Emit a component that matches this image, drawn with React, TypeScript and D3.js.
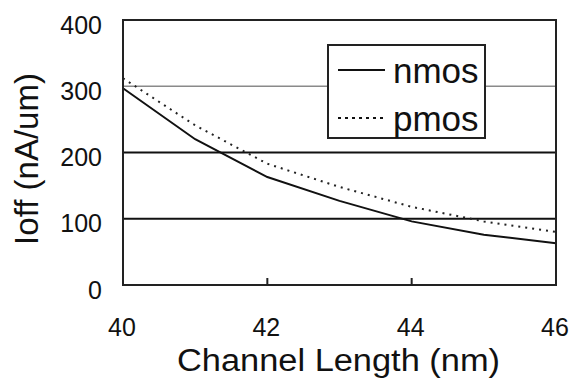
import React from "react";
import * as d3 from "d3";

const channelLength = [40, 41, 42, 43, 44, 45, 46];
const nmos = [297, 220, 163, 127, 96, 76, 63];
const pmos = [312, 241, 183, 148, 118, 96, 80];
const xTicks = [40, 42, 44, 46];
const yTicks = [0, 100, 200, 300, 400];
const seriesNames = ["nmos", "pmos"];

const W = 571;
const H = 380;
const FONT = "'Liberation Sans', Arial, Helvetica, sans-serif";

export default function App() {
  const x = d3.scaleLinear().domain([40, 46]).range([123, 556]);
  const y = d3.scaleLinear().domain([0, 400]).range([285, 20]);
  const line = d3
    .line<number>()
    .x((_, i) => x(channelLength[i]))
    .y((d) => y(d));

  const legend = { x0: 328, y0: 45, x1: 485, y1: 138 };

  return (
    <div style={{ position: "absolute", left: 0, top: 0 }}>
      <svg width={W} height={H} style={{ display: "block", background: "#fff" }} fontFamily={FONT}>
        <rect x={0} y={0} width={W} height={H} fill="#fff" />
        {/* gridlines */}
        {yTicks
          .filter((t) => t > 0 && t < 400)
          .map((t) => (
            <line
              key={"g" + t}
              x1={x(40)}
              x2={x(46)}
              y1={y(t)}
              y2={y(t)}
              stroke={t === 300 ? "#8a8a8a" : "#111"}
              strokeWidth={t === 300 ? 1.3 : 1.8}
            />
          ))}
        {/* series */}
        <path d={line(nmos) || ""} fill="none" stroke="#111" strokeWidth={2} />
        <path
          d={line(pmos) || ""}
          fill="none"
          stroke="#222"
          strokeWidth={2}
          strokeDasharray="2 5"
        />
        {/* frame */}
        <rect
          x={x(40)}
          y={y(400)}
          width={x(46) - x(40)}
          height={y(0) - y(400)}
          fill="none"
          stroke="#222"
          strokeWidth={2}
        />
        {/* x ticks */}
        {xTicks.map((t) => (
          <line key={"t" + t} x1={x(t)} x2={x(t)} y1={y(0)} y2={y(0) - 7} stroke="#222" strokeWidth={2} />
        ))}
        {/* y tick labels */}
        {yTicks.map((t) => (
          <text key={"yl" + t} x={102} y={y(t) + 13.5} fontSize={25} textAnchor="end" fill="#111">
            {t}
          </text>
        ))}
        {/* x tick labels */}
        {xTicks.map((t) => (
          <text key={"xl" + t} x={x(t) - 1} y={336} fontSize={25} textAnchor="middle" fill="#111">
            {t}
          </text>
        ))}
        {/* axis titles */}
        <text
          x={338.5}
          y={371}
          fontSize={31}
          textAnchor="middle"
          textLength={323}
          lengthAdjust="spacingAndGlyphs"
          fill="#111"
        >
          Channel Length (nm)
        </text>
        <text
          transform="translate(38,159) rotate(-90)"
          fontSize={33}
          textAnchor="middle"
          fill="#111"
        >
          Ioff (nA/um)
        </text>
        {/* legend */}
        <rect
          x={legend.x0}
          y={legend.y0}
          width={legend.x1 - legend.x0}
          height={legend.y1 - legend.y0}
          fill="#fff"
          stroke="#222"
          strokeWidth={2}
        />
        {seriesNames.map((name, i) => {
          const ly = i === 0 ? 70 : 118;
          return (
            <g key={name}>
              <line
                x1={338}
                x2={385}
                y1={ly}
                y2={ly}
                stroke="#111"
                strokeWidth={2}
                strokeDasharray={i === 0 ? undefined : "3 4"}
              />
              <text x={393} y={ly + 13} fontSize={35} fill="#111">
                {name}
              </text>
            </g>
          );
        })}
      </svg>
    </div>
  );
}
